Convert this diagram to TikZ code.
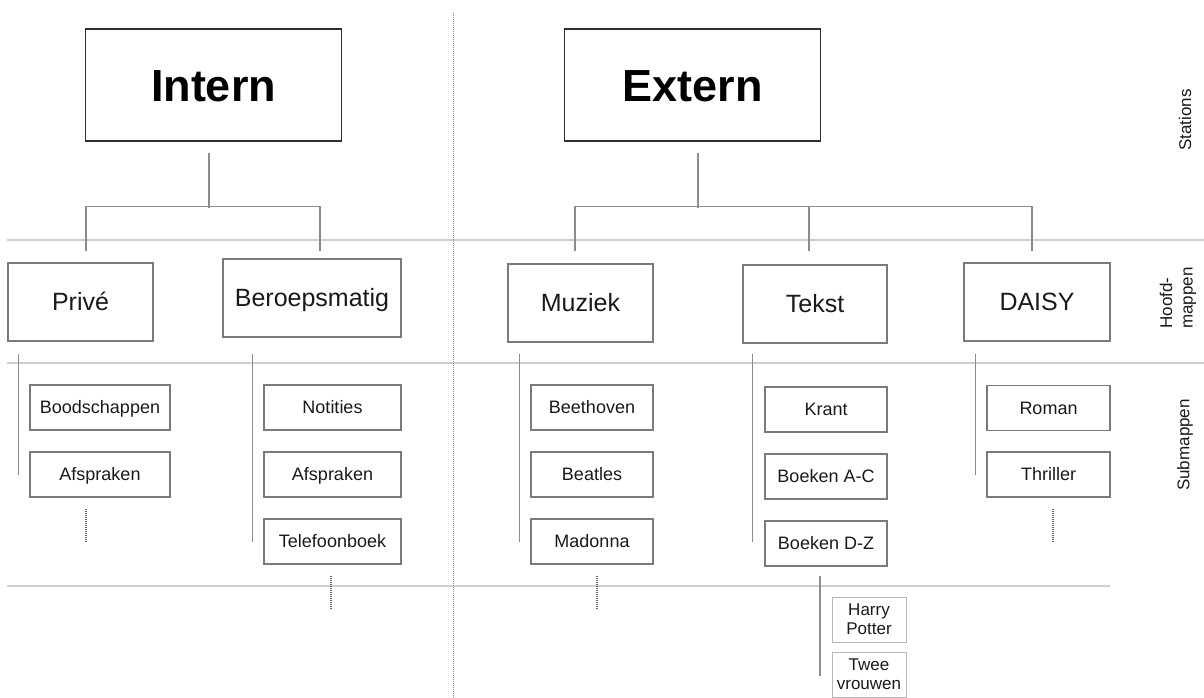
\documentclass[tikz,border=0pt]{standalone}
\usepackage{fontspec}
\setmainfont{Liberation Sans}
\usetikzlibrary{calc}
\definecolor{conncol}{HTML}{8C8C8C}
\definecolor{divcol}{HTML}{CFCFCF}
\definecolor{boxcol}{HTML}{7A7A7A}
\definecolor{txtcol}{HTML}{1A1A1A}
\begin{document}
\begin{tikzpicture}[x=1pt,y=-1pt,
  bigbox/.style={draw=black!82, line width=1.6pt, minimum width=256pt, minimum height=112pt, inner sep=0pt, text height=32.2pt, text depth=0pt, text=black, font=\fontsize{45}{54}\selectfont\bfseries},
  midbox/.style={draw=boxcol, line width=1.2pt, minimum height=78pt, inner sep=0pt, text height=17.9pt, text depth=0pt, text=txtcol, font=\fontsize{25}{30}\selectfont},
  subbox/.style={draw=boxcol, line width=1.1pt, minimum height=45pt, inner sep=0pt, text height=12.9pt, text depth=0pt, text=txtcol, font=\fontsize{18}{22}\selectfont},
  tinybox/.style={draw=black!28, line width=1pt, minimum width=74pt, minimum height=45pt, inner sep=0pt, align=center, text=txtcol, font=\fontsize{17}{19}\selectfont},
  conn/.style={draw=conncol, line width=1.2pt},
  divline/.style={draw=divcol, line width=1.3pt},
  moredots/.style={draw=black!60, line width=1.3pt, dash pattern=on 1pt off 1pt},
  sidelabel/.style={rotate=90, text=txtcol, font=\fontsize{17}{20.5}\selectfont}
]
\useasboundingbox (0,0) rectangle (1204,698);
\fill[white] (0,0) rectangle (1204,698);

% dividers
\draw[divline] (7,240) -- (1204,240);
\draw[divline] (7,363) -- (1204,363);
\draw[divline] (7,586) -- (1110,586);
\draw[draw=black!45, line width=0.9pt, dash pattern=on 1pt off 1pt] (453,13) -- (453,698);

% stations
\node[bigbox] (intern) at (213.5,85) {Intern};
\node[bigbox] (extern) at (692.5,85) {Extern};

% hoofdmappen
\node[midbox, minimum width=145pt] (prive) at (80.5,302) {Privé};
\node[midbox, minimum width=178pt] (beroeps) at (312,298) {Beroepsmatig};
\node[midbox, minimum width=145pt] (muziek) at (580.5,303) {Muziek};
\node[midbox, minimum width=144pt] (tekst) at (815,304) {Tekst};
\node[midbox, minimum width=146pt] (daisy) at (1037,302) {DAISY};

% submappen
\node[subbox, minimum width=140pt] (boodsch) at (100,407.5) {Boodschappen};
\node[subbox, minimum width=140pt] (afspr1) at (100,474.5) {Afspraken};
\node[subbox, minimum width=137pt] (notities) at (332.5,407.5) {Notities};
\node[subbox, minimum width=137pt] (afspr2) at (332.5,474.5) {Afspraken};
\node[subbox, minimum width=137pt] (telefoon) at (332.5,541.5) {Telefoonboek};
\node[subbox, minimum width=122pt] (beethoven) at (592,407.5) {Beethoven};
\node[subbox, minimum width=122pt] (beatles) at (592,474.5) {Beatles};
\node[subbox, minimum width=122pt] (madonna) at (592,541.5) {Madonna};
\node[subbox, minimum width=122pt] (krant) at (826,409.5) {Krant};
\node[subbox, minimum width=122pt] (boekenac) at (826,476.5) {Boeken A-C};
\node[subbox, minimum width=122pt] (boekendz) at (826,543.5) {Boeken D-Z};
\node[subbox, minimum width=123pt] (roman) at (1048.5,408) {Roman};
\node[subbox, minimum width=123pt] (thriller) at (1048.5,474.5) {Thriller};
\node[tinybox] (harry) at (869,619.5) {Harry\\Potter};
\node[tinybox] (twee) at (869,674.5) {Twee\\vrouwen};

% connectors: stations to hoofdmappen
\draw[conn] ($(intern.south)+(-4.5,11)$) -- ++(0,55);
\draw[conn] ($(prive.north)+(5.5,-11)$) -- ++(0,-45) -| ($(beroeps.north)+(8,-7)$);
\draw[conn] ($(extern.south)+(5.5,11)$) -- ++(0,55);
\draw[conn] ($(muziek.north)+(-5.5,-12)$) -- ++(0,-45) -| ($(daisy.north)+(-5,-11)$);
\draw[conn] ($(tekst.north)+(-6,-13)$) -- ++(0,-45);

% connectors: hoofdmappen to submappen
\draw[conn] ($(prive.south west)+(11,12)$) -- ++(0,121);
\draw[conn] ($(beroeps.south west)+(30,16)$) -- ++(0,188);
\draw[conn] ($(muziek.south west)+(12,11)$) -- ++(0,188);
\draw[conn] ($(tekst.south west)+(10,10)$) -- ++(0,188);
\draw[conn] ($(daisy.south west)+(12,12)$) -- ++(0,121);
\draw[conn] ($(boekendz.south)+(-6,9)$) -- ++(0,100);

% continuation dots
\draw[moredots] ($(afspr1.south)+(-14,11)$) -- ++(0,33);
\draw[moredots] ($(telefoon.south)+(-1.5,11)$) -- ++(0,33);
\draw[moredots] ($(madonna.south)+(5,11)$) -- ++(0,33);
\draw[moredots] ($(thriller.south)+(4.5,11)$) -- ++(0,33);

% level labels
\node[sidelabel] (lstations) at (1185,120) {Stations};
\node[sidelabel, align=left] (lhoofd) at (1178,298) {Hoofd-\\mappen};
\node[sidelabel] (lsub) at (1185,445) {Submappen};
\end{tikzpicture}
\end{document}
